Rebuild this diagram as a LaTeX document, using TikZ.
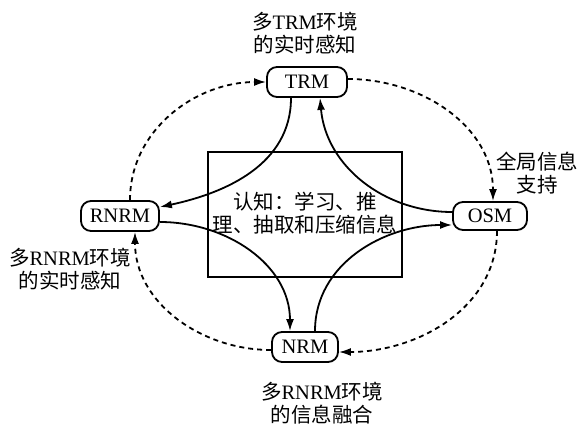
\documentclass[tikz,border=0pt]{standalone}
\usepackage{fontspec}
\setmainfont{Liberation Serif}
\newfontfamily\cjk{Noto Sans CJK SC}
\newcommand{\zh}[1]{{\cjk #1}}
\usetikzlibrary{arrows.meta}
\tikzset{
    module/.style={draw, line width=1.8pt, rounded corners=10pt, minimum height=30pt, inner xsep=8pt},
    solidarrow/.style={line width=1.8pt, -{Latex[length=12pt,width=8pt]}},
    dasharrow/.style={line width=1.8pt, dash pattern=on 5pt off 4pt, -{Latex[length=12pt,width=8pt]}},
    caption/.style={align=center, inner sep=0pt}
}
\begin{document}
\begin{tikzpicture}[x=1pt, y=-1pt, font=\fontsize{20.5}{23}\selectfont]
    \useasboundingbox (0, 0) rectangle (582, 425);
    \draw[line width=1.8pt] (208, 152) rectangle (402, 277);
    \node[caption] (cog) at (305, 213) {\zh{认知：学习、推}\\\zh{理、抽取和压缩信息}};
    \node[module, minimum width=80pt] (trm) at (307, 82) {TRM};
    \node[module, minimum width=78pt] (rnrm) at (120, 216) {RNRM};
    \node[module, minimum width=74pt, minimum height=28pt] (osm) at (490, 216) {OSM};
    \node[module, minimum width=66pt] (nrm) at (305, 347) {NRM};
    \node[caption] (trmlabel) at (305, 33) {\zh{多}TRM\zh{环境}\\\zh{的实时感知}};
    \node[caption] (rnrmlabel) at (70, 269) {\zh{多}RNRM\zh{环境}\\\zh{的实时感知}};
    \node[caption] (osmlabel) at (537, 173) {\zh{全局信息}\\\zh{支持}};
    \node[caption] (nrmlabel) at (322, 403) {\zh{多}RNRM\zh{环境}\\\zh{的信息融合}};
    \draw[solidarrow] ([xshift=-16pt]trm.south) to[out=-90, in=12] ([yshift=9pt]rnrm.east);
    \draw[solidarrow] ([yshift=4pt]osm.west) to[out=180, in=-85] ([xshift=13pt]trm.south);
    \draw[solidarrow] ([yshift=-6pt]rnrm.east) to[out=0, in=90] ([xshift=-15pt]nrm.north);
    \draw[solidarrow] ([xshift=10pt]nrm.north) to[out=90, in=180] ([yshift=-9pt]osm.west);
    \draw[dasharrow] ([xshift=10pt]rnrm.north) to[out=90, in=180] (trm.west);
    \draw[dasharrow] ([yshift=3pt]trm.east) to[out=0, in=90] ([xshift=3pt]osm.north);
    \draw[dasharrow] ([xshift=7pt]osm.south) to[out=-90, in=0] ([yshift=-5pt]nrm.east);
    \draw[dasharrow] ([yshift=-3pt]nrm.west) to[out=180, in=-90] ([xshift=15pt]rnrm.south);
\end{tikzpicture}
\end{document}
